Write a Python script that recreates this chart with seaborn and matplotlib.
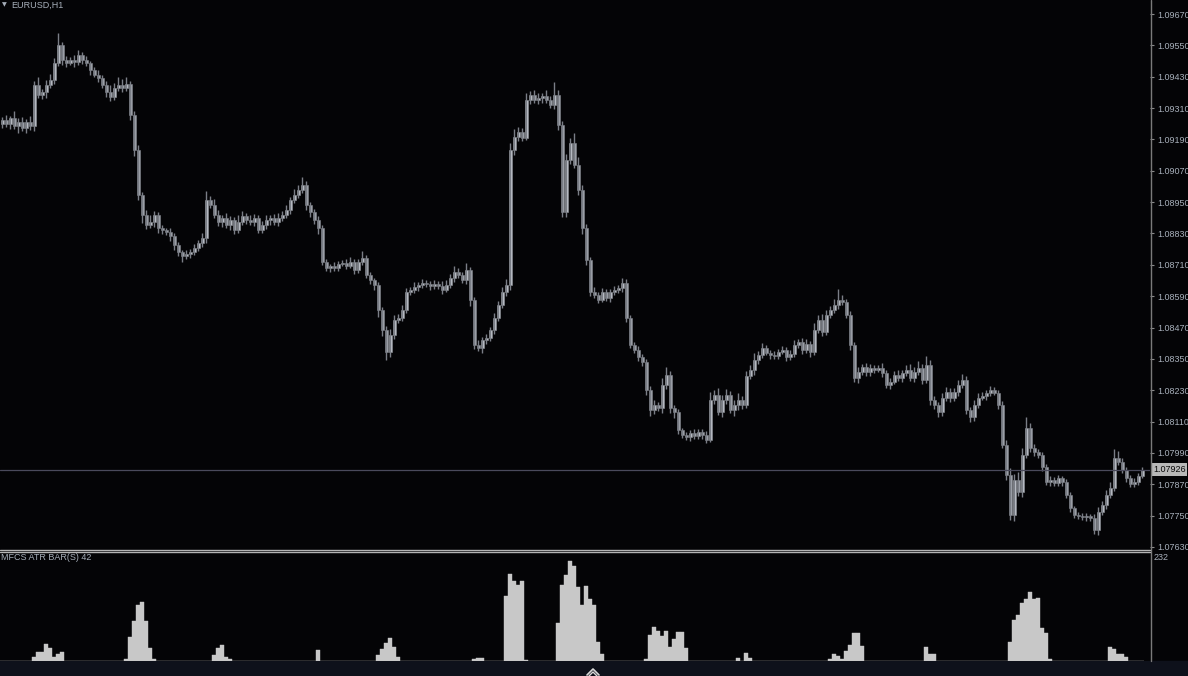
import numpy as np
import pandas as pd
import matplotlib
matplotlib.use("Agg")
import matplotlib.pyplot as plt
import matplotlib.transforms as mtransforms
from matplotlib.lines import Line2D
from matplotlib.patches import Rectangle
import seaborn as sns

# EURUSD H1 closes (open = previous close)
first_open = 1.09250
closes = [
    1.09264, 1.09249, 1.09272, 1.09241, 1.09257, 1.09234, 1.09257, 1.09241,
    1.09398, 1.09360, 1.09372, 1.09398, 1.09417, 1.09483, 1.09551, 1.09494,
    1.09483, 1.09494, 1.09486, 1.09513, 1.09494, 1.09483, 1.09456, 1.09437,
    1.09425, 1.09398, 1.09372, 1.09352, 1.09387, 1.09398, 1.09387, 1.09402,
    1.09284, 1.09150, 1.08977, 1.08901, 1.08863, 1.08874, 1.08901, 1.08851,
    1.08843, 1.08836, 1.08820, 1.08786, 1.08759, 1.08744, 1.08752, 1.08759,
    1.08775, 1.08794, 1.08813,
    1.08958, 1.08939, 1.08901, 1.08874, 1.08889, 1.08863, 1.08882, 1.08843,
    1.08874, 1.08897, 1.08882, 1.08874, 1.08889, 1.08843, 1.08863, 1.08882,
    1.08889, 1.08874, 1.08889, 1.08901, 1.08920, 1.08958, 1.08977, 1.08997,
    1.09016,
    1.08939, 1.08912, 1.08882, 1.08851, 1.08721, 1.08698, 1.08706, 1.08698,
    1.08713, 1.08717, 1.08706, 1.08721, 1.08690, 1.08721, 1.08736, 1.08671,
    1.08652, 1.08633,
    1.08537, 1.08461, 1.08377, 1.08442, 1.08499, 1.08507, 1.08537, 1.08606,
    1.08614, 1.08625, 1.08633, 1.08641, 1.08637, 1.08629, 1.08637, 1.08629,
    1.08614, 1.08633, 1.08660, 1.08683, 1.08671, 1.08652, 1.08690, 1.08576,
    1.08403, 1.08392, 1.08422, 1.08430, 1.08461, 1.08507, 1.08556, 1.08606,
    1.08633,
    1.09150, 1.09199, 1.09218, 1.09196, 1.09341, 1.09360, 1.09341, 1.09349,
    1.09356, 1.09341, 1.09322, 1.09360, 1.09245, 1.08912, 1.09111, 1.09176,
    1.09092, 1.08997, 1.08851, 1.08729, 1.08606, 1.08595, 1.08576, 1.08606,
    1.08583, 1.08606, 1.08614, 1.08621, 1.08641,
    1.08507, 1.08403, 1.08384, 1.08357, 1.08338, 1.08231, 1.08155, 1.08174,
    1.08162, 1.08250, 1.08289, 1.08162, 1.08147, 1.08078, 1.08059, 1.08051,
    1.08067, 1.08055, 1.08070, 1.08059, 1.08040, 1.08193, 1.08212, 1.08147,
    1.08193, 1.08212, 1.08155, 1.08174, 1.08193, 1.08174,
    1.08285, 1.08308, 1.08346, 1.08365, 1.08392, 1.08373, 1.08365, 1.08361,
    1.08377, 1.08384, 1.08357, 1.08369, 1.08403, 1.08415, 1.08384, 1.08407,
    1.08377, 1.08461, 1.08499, 1.08453, 1.08518, 1.08537, 1.08556, 1.08576,
    1.08568, 1.08518,
    1.08403, 1.08277, 1.08300, 1.08319, 1.08300, 1.08315, 1.08308, 1.08315,
    1.08296, 1.08250, 1.08262, 1.08289, 1.08277, 1.08296, 1.08308, 1.08277,
    1.08300, 1.08315, 1.08269, 1.08327, 1.08193, 1.08174, 1.08147, 1.08201,
    1.08223, 1.08201, 1.08223, 1.08250, 1.08269, 1.08155, 1.08128, 1.08174,
    1.08201, 1.08208, 1.08220, 1.08231, 1.08220, 1.08174,
    1.08021, 1.07906, 1.07753, 1.07887, 1.07841, 1.07982, 1.08086, 1.08009,
    1.07994, 1.07982, 1.07936, 1.07879, 1.07887, 1.07875, 1.07894, 1.07879,
    1.07829, 1.07780, 1.07753, 1.07749, 1.07745, 1.07749, 1.07741, 1.07695,
    1.07764, 1.07791, 1.07829, 1.07856, 1.07971, 1.07956, 1.07925, 1.07894,
    1.07871, 1.07879, 1.07902, 1.07926,
]

# wick lengths in points (1e-5)
upper_wick = [
    12, 20, 8, 25, 15, 18, 10, 22, 14, 30, 12, 18, 25, 20, 45, 10, 15, 12, 20, 18,
    10, 14, 8, 12, 20, 10, 15, 25, 18, 30, 22, 28, 10, 15, 20, 12, 18, 25, 14, 10,
    12, 8, 15, 10, 12, 8, 14, 10, 16, 12, 20, 35, 15, 22, 18, 12, 20, 15, 10, 25,
    18, 12, 20, 15, 10, 14, 18, 12, 16, 20, 14, 18, 12, 22, 20, 30, 14, 10, 12, 15,
    12, 10, 8, 15, 12, 10, 14, 20, 12, 10, 25, 12, 10, 8, 12, 10, 15, 22, 18, 14,
    20, 15, 12, 18, 10, 14, 12, 10, 15, 12, 20, 18, 14, 22, 16, 12, 25, 10, 12, 18,
    10, 15, 12, 20, 14, 18, 22, 25, 30, 20, 15, 28, 15, 20, 18, 12, 25, 15, 50, 20,
    15, 25, 20, 40, 30, 20, 15, 12, 18, 10, 14, 12, 10, 15, 12, 20, 14, 10, 12, 15,
    10, 12, 15, 20, 12, 25, 30, 15, 12, 10, 8, 12, 10, 14, 12, 10, 15, 30, 20, 25,
    18, 22, 15, 20, 25, 15, 20, 18, 25, 15, 20, 12, 10, 14, 12, 15, 10, 14, 20, 12,
    15, 18, 12, 25, 20, 22, 18, 15, 25, 40, 20, 12, 15, 10, 20, 12, 15, 14, 10, 12,
    20, 12, 15, 14, 20, 12, 18, 22, 20, 25, 15, 35, 20, 15, 12, 18, 20, 15, 14, 18,
    22, 15, 12, 20, 18, 15, 12, 14, 10, 12, 15, 20, 25, 22, 30, 25, 40, 20, 15, 12,
    10, 12, 15, 10, 12, 8, 12, 10, 8, 10, 12, 10, 8, 15, 20, 15, 18, 22, 35, 25,
    15, 12, 10, 14, 12, 10,
]
lower_wick = [
    15, 10, 20, 12, 25, 10, 18, 14, 20, 12, 15, 25, 10, 14, 12, 20, 15, 10, 18, 12,
    15, 12, 18, 10, 14, 12, 20, 15, 12, 10, 14, 12, 18, 25, 20, 30, 15, 12, 20, 18,
    15, 12, 20, 18, 15, 25, 12, 15, 10, 12, 14, 18, 12, 10, 15, 20, 12, 18, 14, 12,
    10, 15, 12, 14, 10, 12, 15, 20, 12, 14, 10, 12, 15, 10, 12, 14, 18, 20, 15, 25,
    12, 10, 15, 12, 10, 8, 12, 10, 14, 12, 10, 12, 15, 20, 25, 22, 30, 18, 15, 12,
    14, 12, 10, 12, 15, 10, 12, 14, 10, 12, 15, 10, 12, 14, 10, 12, 15, 25, 15, 12,
    18, 14, 12, 15, 12, 10, 15, 20, 18, 14, 12, 10, 15, 12, 14, 18, 12, 10, 15, 20,
    20, 18, 15, 12, 20, 25, 18, 15, 12, 14, 10, 12, 15, 10, 12, 14, 15, 12, 10, 14,
    15, 20, 25, 15, 12, 18, 14, 20, 25, 15, 12, 10, 14, 12, 10, 15, 12, 10, 14, 12,
    20, 15, 12, 25, 18, 15, 14, 12, 20, 15, 12, 10, 14, 12, 10, 8, 14, 12, 10, 12,
    15, 12, 18, 14, 12, 15, 12, 10, 12, 14, 10, 12, 20, 15, 18, 12, 15, 14, 12, 10,
    14, 12, 15, 10, 12, 14, 12, 10, 15, 12, 14, 10, 18, 15, 20, 14, 12, 15, 12, 14,
    12, 15, 18, 14, 12, 10, 14, 12, 10, 15, 12, 20, 20, 25, 15, 18, 12, 15, 14, 12,
    15, 12, 14, 12, 10, 14, 12, 15, 14, 12, 10, 14, 12, 15, 20, 12, 14, 12, 10, 12,
    12, 14, 10, 12, 10, 8,
]

# MFCS ATR BAR(S) 42 histogram (bar index -> value), all other bars are 0
atr_index = [8, 9, 10, 11, 12, 13, 14, 15,
             31, 32, 33, 34, 35, 36, 37, 38,
             53, 54, 55, 56, 57, 79,
             94, 95, 96, 97, 98, 99, 118, 119, 120,
             126, 127, 128, 129, 130, 131,
             139, 140, 141, 142, 143, 144, 145, 146, 147, 148, 149, 150,
             161, 162, 163, 164, 165, 166, 167, 168, 169, 170, 171,
             184, 186, 187,
             207, 208, 209, 210, 211, 212, 213, 214, 215,
             231, 232, 233,
             252, 253, 254, 255, 256, 257, 258, 259, 260, 261, 262,
             277, 278, 279, 280, 281]
atr_value = [9, 19, 19, 36, 28, 9, 15, 19,
             4, 51, 85, 119, 126, 85, 28, 4,
             13, 28, 34, 9, 4, 23,
             13, 26, 38, 49, 30, 9, 4, 6, 6,
             138, 185, 170, 162, 170, 2,
             81, 162, 183, 213, 202, 157, 119, 160, 132, 119, 40, 15,
             4, 55, 72, 64, 53, 64, 30, 47, 62, 62, 28,
             6, 17, 6,
             4, 15, 11, 4, 21, 34, 60, 60, 32,
             30, 15, 15,
             40, 87, 98, 123, 132, 147, 132, 134, 70, 60, 4,
             30, 26, 15, 15, 9]

price_ticks = [1.09670, 1.09550, 1.09430, 1.09310, 1.09190, 1.09070, 1.08950,
               1.08830, 1.08710, 1.08590, 1.08470, 1.08350, 1.08230, 1.08110,
               1.07990, 1.07870, 1.07750, 1.07630]
last_price = 1.07926
atr_max = 232

BG = "#040406"
TXT = "#a7afba"

sns.set_style("dark", {"axes.facecolor": BG, "figure.facecolor": BG})
plt.rcParams["font.family"] = ["Liberation Sans", "DejaVu Sans"]

W, H = 1188, 676
def fx(px):
    return px / W
def fy(py):
    return 1 - py / H

fig = plt.figure(figsize=(W / 100, H / 100), dpi=100, facecolor=BG)
ax = fig.add_axes([0, fy(548), fx(1150), 548 / H])
ax2 = fig.add_axes([0, fy(661), fx(1150), (661 - 552) / H])

# candles
n = len(closes)
idx = np.arange(n)
close = np.array(closes)
opens = np.r_[first_open, close[:-1]]
top = np.maximum(opens, close)
bot = np.minimum(opens, close)
high = top + np.array(upper_wick) / 1e5
low = bot - np.array(lower_wick) / 1e5
body = np.maximum(top - bot, 0.00002)
bull = close >= opens

ax.vlines(idx, low, high, color="#7a7e86", lw=1.0)
ax.bar(idx[bull], body[bull], bottom=bot[bull], width=0.75,
       color="#c4c8d0", edgecolor="#8a8e96", linewidth=0.4)
ax.bar(idx[~bull], body[~bull], bottom=bot[~bull], width=0.75,
       color="#a2a6ae", edgecolor="#80848c", linewidth=0.4)

ax.axhline(last_price, color="#4a4a5c", lw=0.9)
ax.set_xlim(-0.5, 287)
ax.set_ylim(1.07626, 1.097236)
ax.set_xticks([])
ax.yaxis.tick_right()
ax.set_yticks(price_ticks)
ax.set_yticklabels([f"{t:.5f}" for t in price_ticks])
ax.tick_params(axis="y", colors="#8a8a8a", labelcolor=TXT, labelsize=6.5,
               length=3, width=0.8, pad=2, direction="out")
for s in ax.spines.values():
    s.set_visible(False)

blend = mtransforms.blended_transform_factory(ax.transAxes, ax.transData)
ax.text(1.0025, last_price, f"{last_price:.5f}", transform=blend,
        ha="left", va="center", fontsize=6.5, color="#0a0a0a",
        bbox=dict(boxstyle="square,pad=0.2", fc="#b8b8b8", ec="none"))

# indicator histogram
atr = np.zeros(n)
atr[atr_index] = atr_value
df = pd.DataFrame({"bar": idx, "atr": atr})
sns.barplot(data=df, x="bar", y="atr", native_scale=True, width=1.0,
            color="#c8c8c8", saturation=1, errorbar=None,
            edgecolor="#c8c8c8", linewidth=0.3, ax=ax2)
ax2.set_xlim(-0.5, 287)
ax2.set_ylim(0, atr_max)
ax2.set_xticks([])
ax2.set_yticks([])
ax2.set_xlabel("")
ax2.set_ylabel("")
for s in ax2.spines.values():
    s.set_visible(False)

# frame lines
fig.add_artist(Line2D([fx(1150.5)] * 2, [fy(0), fy(661)], color="#7a7a7a", lw=1))
for yy in (549.5, 551.5):
    fig.add_artist(Line2D([0, fx(1150)], [fy(yy)] * 2, color="#b4b4b4", lw=1))

# bottom strip with chevron
fig.add_artist(Rectangle((0, 0), 1, 15 / H, transform=fig.transFigure,
                         color="#0e111b", zorder=0))
fig.add_artist(Line2D([fx(587), fx(593), fx(599)], [fy(675), fy(669), fy(675)],
                      color="#d8d8d8", lw=1.2))
fig.add_artist(Line2D([fx(589), fx(593), fx(597)], [fy(676), fy(672), fy(676)],
                      color="#d8d8d8", lw=1.0))

# labels
fig.text(fx(2), fy(5), "\u25bc", fontsize=4.5, color=TXT, va="center",
         family=["DejaVu Sans"])
fig.text(fx(11), fy(5), "EURUSD,H1", fontsize=6.5, color=TXT, va="center")
fig.text(fx(1), fy(558), "MFCS ATR BAR(S) 42", fontsize=6.5, color=TXT,
         va="center")
fig.text(fx(1154), fy(558), str(atr_max), fontsize=6.5, color=TXT, va="center")

fig.savefig("out.png", dpi=100, facecolor=BG)
